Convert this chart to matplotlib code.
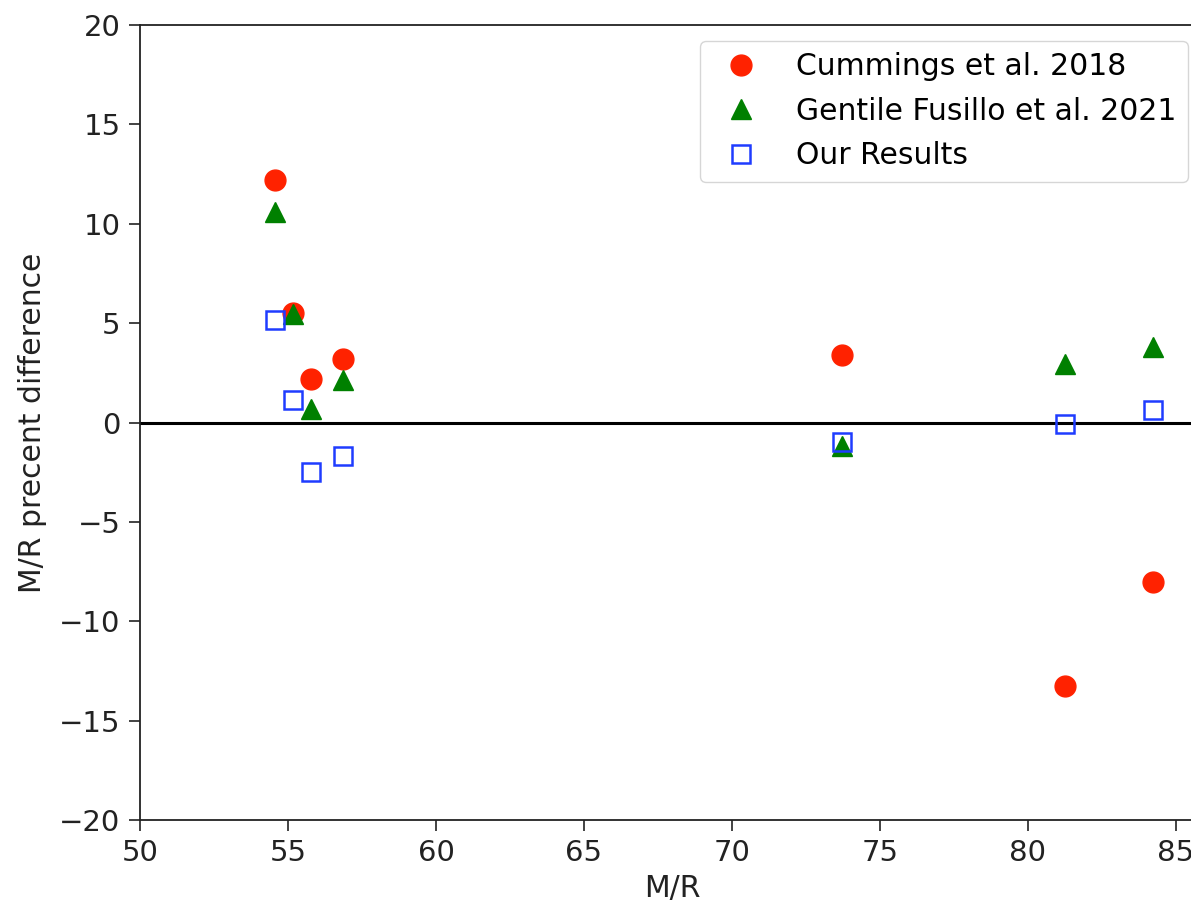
import matplotlib
matplotlib.use("Agg")
import matplotlib.pyplot as plt

# M/R values of the sample (same for every series)
mr = [54.55, 55.18, 55.78, 56.86, 73.72, 81.25, 84.22]

cummings = [12.2, 5.5, 2.2, 3.2, 3.4, -13.25, -8.05]
gentile = [10.6, 5.45, 0.7, 2.15, -1.2, 2.95, 3.8]
ours = [5.15, 1.15, -2.5, -1.7, -1.0, -0.1, 0.62]

W, H = 1191, 908
fig = plt.figure(figsize=(W / 100, H / 100), dpi=100)
# axes: left spine at px 140, top 25, bottom 820, 29.6 px per unit in x
x0, x1 = 50, 86
ax = fig.add_axes([140 / W, 1 - 820 / H, (x1 - x0) * 29.6 / W, 795 / H])

ax.plot(mr, cummings, "o", color="#ff2200", ms=15, ls="none",
        label="Cummings et al. 2018")
ax.plot(mr, gentile, "^", color="green", ms=15, ls="none",
        label="Gentile Fusillo et al. 2021")
ax.plot(mr, ours, "s", mfc="none", mec="#1f3cff", mew=1.8, ms=12.5,
        ls="none", label="Our Results")
ax.axhline(0, color="black", lw=2.2, zorder=1)

ax.set_xlim(x0, x1)
ax.set_ylim(-20, 20)
ax.set_xticks(range(50, 90, 5))
ax.set_yticks(range(-20, 25, 5))
ax.tick_params(labelsize=21, length=8, width=1.2, color="#222222",
               labelcolor="#222222", pad=6)
for s in ax.spines.values():
    s.set_linewidth(1.3)
    s.set_color("#222222")

ax.set_xlabel("M/R", fontsize=21.5, color="#222222", labelpad=5)
ax.set_ylabel("M/R precent difference", fontsize=21.5, color="#222222",
              labelpad=9)

ax.legend(loc="upper right", bbox_to_anchor=(1188 / W, 1 - 41 / H),
          bbox_transform=fig.transFigure, borderaxespad=0, fontsize=21.5,
          handletextpad=0.85, labelspacing=0.52, borderpad=0.38,
          framealpha=0.8, edgecolor="#cccccc")

fig.savefig("out.png", dpi=100, facecolor="white")
